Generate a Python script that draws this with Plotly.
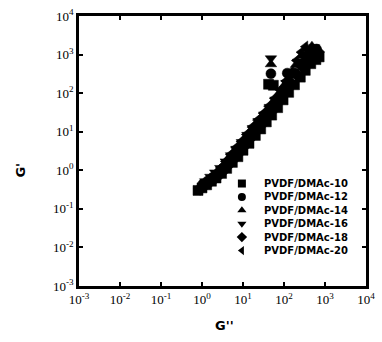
import plotly.graph_objects as go

# ---- data ----
names = ["PVDF/DMAc-10", "PVDF/DMAc-12", "PVDF/DMAc-14",
         "PVDF/DMAc-16", "PVDF/DMAc-18", "PVDF/DMAc-20"]

# G'' (x) and G' (y) for each sample
g2_10 = [0.8, 1.0, 1.3, 1.7, 2.2, 3.0, 4.0, 5.5, 7.5, 10, 14, 20, 27, 37, 50, 70, 95, 130, 180, 250, 330, 450, 600, 720, 42, 55]
g1_10 = [0.30, 0.35, 0.42, 0.52, 0.63, 0.83, 1.12, 1.6, 2.25, 3.3, 5.0, 8.0, 11.8, 18, 27, 42, 67, 105, 165, 260, 390, 580, 740, 870, 170, 160]

g2_12 = [1.05, 1.35, 1.8, 2.4, 3.2, 4.3, 5.8, 7.9, 10.7, 14.5, 20, 28, 38, 52, 72, 98, 135, 185, 255, 340, 460, 620, 48, 120]
g1_12 = [0.44, 0.52, 0.65, 0.82, 1.12, 1.6, 2.35, 3.4, 5.1, 7.8, 12, 18.5, 28, 43, 69, 112, 188, 335, 590, 890, 1270, 1390, 320, 330]

g2_14 = [1.4, 1.9, 2.5, 3.4, 4.5, 6.1, 8.2, 11, 15, 21, 29, 40, 55, 76, 104, 142, 195, 270, 360, 480, 48]
g1_14 = [0.55, 0.72, 0.97, 1.4, 2.1, 3.1, 4.6, 6.8, 10.4, 16.5, 25, 39, 61, 100, 165, 280, 540, 950, 1400, 1650, 560]

g2_16 = [1.2, 1.6, 2.1, 2.8, 3.8, 5.1, 6.9, 9.4, 12.8, 17.5, 24, 33, 45, 62, 85, 115, 160, 220, 300, 400, 540, 48]
g1_16 = [0.52, 0.68, 0.88, 1.15, 1.7, 2.45, 3.6, 5.4, 8.3, 12.5, 19, 28, 44, 68, 112, 185, 350, 650, 1050, 1400, 1550, 800]

g2_18 = [0.9, 1.15, 1.5, 2.0, 2.6, 3.5, 4.7, 6.4, 8.7, 12, 16.5, 23, 32, 43, 60, 82, 112, 155, 215, 290, 390, 520, 680]
g1_18 = [0.33, 0.40, 0.48, 0.60, 0.75, 1.02, 1.45, 2.1, 3.1, 4.7, 7.4, 11.5, 17.5, 26.5, 41, 66, 105, 170, 285, 470, 720, 1020, 1170]

g2_20 = [1.6, 2.1, 2.8, 3.7, 4.9, 6.6, 8.9, 12, 16.5, 22.5, 31, 42, 58, 80, 110, 150, 200, 260, 330]
g1_20 = [0.6, 0.8, 1.15, 1.7, 2.55, 3.85, 5.6, 8.5, 13.2, 20, 30, 46, 73, 120, 205, 360, 700, 1150, 1600]

series_x = [g2_10, g2_12, g2_14, g2_16, g2_18, g2_20]
series_y = [g1_10, g1_12, g1_14, g1_16, g1_18, g1_20]
symbols = ["square", "circle", "triangle-up", "triangle-down", "diamond", "triangle-left"]

tick_vals = [1e-3, 1e-2, 1e-1, 1e0, 1e1, 1e2, 1e3, 1e4]
tick_text = ["10<sup>-3</sup>", "10<sup>-2</sup>", "10<sup>-1</sup>", "10<sup>0</sup>",
             "10<sup>1</sup>", "10<sup>2</sup>", "10<sup>3</sup>", "10<sup>4</sup>"]

# ---- figure geometry (pixels) ----
W, H = 382, 342
ML, MR, MT, MB = 79, 7, 12, 56
PW, PH = W - ML - MR, H - MT - MB

fig = go.Figure()
for nm, xs, ys, sym in zip(names, series_x, series_y, symbols):
    fig.add_trace(go.Scatter(
        x=xs, y=ys, mode="markers", name=nm, showlegend=False,
        marker=dict(symbol=sym, size=10, color="black", line=dict(width=0.5, color="black")),
    ))

# hand-built compact legend on an overlay axis measured in pixels
leg_sym_x = 247
leg_txt_x = 268
leg_y0, leg_dy = 182, 13.6
for i, (nm, sym) in enumerate(zip(names, symbols)):
    yy = leg_y0 + i * leg_dy
    fig.add_trace(go.Scatter(
        x=[leg_sym_x], y=[yy], xaxis="x2", yaxis="y2", mode="markers",
        showlegend=False, hoverinfo="skip",
        marker=dict(symbol=sym, size=8, color="black", line=dict(width=0)),
    ))
    fig.add_annotation(
        x=leg_txt_x, y=yy, xref="x2", yref="y2", text=nm, showarrow=False,
        xanchor="left", yanchor="middle",
        font=dict(family="DejaVu Sans", size=10, color="black", weight="bold"),
    )

axis_common = dict(
    type="log", range=[-3, 4], tickvals=tick_vals, ticktext=tick_text,
    showline=True, linecolor="black", linewidth=2.5, mirror="ticks",
    ticks="inside", ticklen=4, tickwidth=1.5, tickcolor="black",
    showgrid=False, zeroline=False,
    tickfont=dict(family="Liberation Serif", size=13, color="black"),
)

fig.update_layout(
    width=W, height=H,
    margin=dict(l=ML, r=MR, t=MT, b=MB),
    paper_bgcolor="white", plot_bgcolor="white",
    xaxis=dict(**axis_common),
    yaxis=dict(**axis_common),
    xaxis2=dict(overlaying="x", range=[ML, ML + PW], visible=False, fixedrange=True),
    yaxis2=dict(overlaying="y", range=[MT + PH, MT], visible=False, fixedrange=True),
    showlegend=False,
)
fig.add_annotation(text="<b>G''</b>", xref="paper", yref="paper",
                   x=(229 - ML) / PW, y=(MT + PH - 326) / PH,
                   xanchor="center", yanchor="middle", showarrow=False,
                   font=dict(family="DejaVu Sans", size=13, color="black"))
fig.add_annotation(text="<b>G'</b>", xref="paper", yref="paper",
                   x=(19 - ML) / PW, y=(MT + PH - 168) / PH,
                   xanchor="center", yanchor="middle", showarrow=False, textangle=-90,
                   font=dict(family="DejaVu Sans", size=13, color="black"))

fig.write_html("out.html")
